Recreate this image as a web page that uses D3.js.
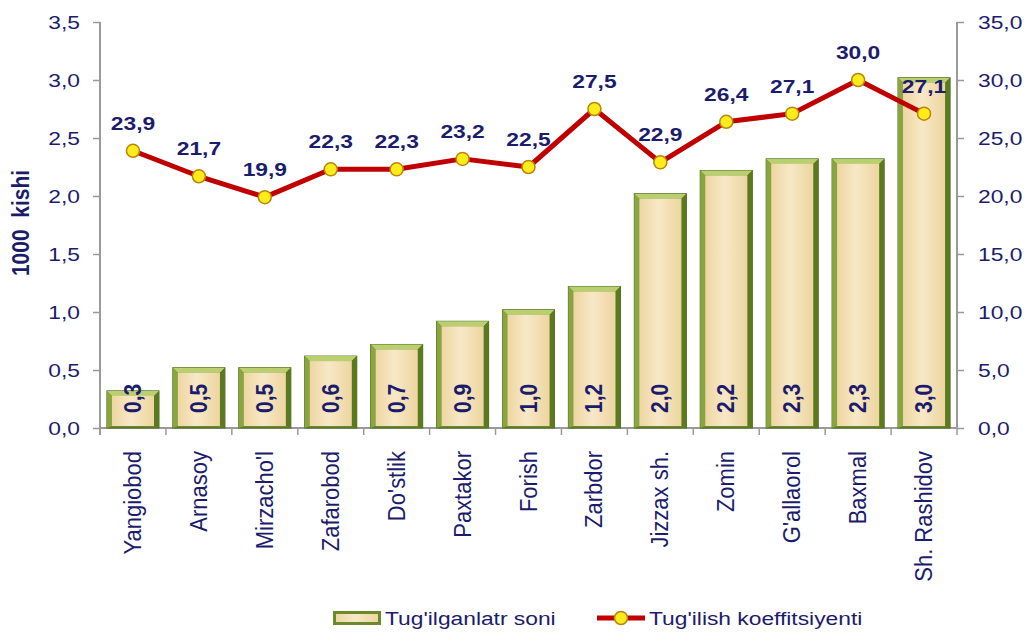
<!DOCTYPE html>
<html>
<head>
<meta charset="utf-8">
<script src="https://cdn.jsdelivr.net/npm/d3@7"></script>
<style>
    body { margin: 0; background: #fff; }
    svg { display: block; font-family: "Liberation Sans", Arial, sans-serif; }
</style>
</head>
<body>
<div id="chart"></div>
<script>
// Data
const districts = ["Yangiobod", "Arnasoy", "Mirzacho'l", "Zafarobod", "Do'stlik", "Paxtakor", "Forish",
    "Zarbdor", "Jizzax sh.", "Zomin", "G'allaorol", "Baxmal", "Sh. Rashidov"];
const births = [0.32, 0.52, 0.52, 0.62, 0.72, 0.92, 1.02, 1.22, 2.02, 2.22, 2.32, 2.32, 3.02];
const birthLabels = ["0,3", "0,5", "0,5", "0,6", "0,7", "0,9", "1,0", "1,2", "2,0", "2,2", "2,3", "2,3", "3,0"];
const rate = [23.9, 21.7, 19.9, 22.3, 22.3, 23.2, 22.5, 27.5, 22.9, 26.4, 27.1, 30.0, 27.1];
const leftTicks = [0, 0.5, 1.0, 1.5, 2.0, 2.5, 3.0, 3.5];
const rightTicks = [0, 5, 10, 15, 20, 25, 30, 35];
const seriesNames = ["Tug'ilganlatr soni", "Tug'ilish koeffitsiyenti"];

const width = 1027, height = 635;
const margin = { top: 22, right: 70, bottom: 207, left: 100 };
const innerWidth = width - margin.left - margin.right;
const innerHeight = height - margin.top - margin.bottom;

const navy = "#1c1c6c";
const axisGrey = "#9a9a9a";
const wide = 1.2; // the source lettering is drawn a bit wider than it is tall
const fmt = d => d3.format(".1f")(d).replace(".", ",");

// place text at (x, y), stretched sideways, optionally turned
const placeText = (x, y, turn) =>
    "translate(" + x + "," + y + ") scale(" + (turn ? 1.1 : wide) + ",1)" + (turn ? " rotate(-90)" : "");

const svg = d3.select("#chart")
    .append("svg")
    .attr("width", width)
    .attr("height", height)
    .append("g")
    .attr("transform", "translate(" + margin.left + "," + margin.top + ")");

const defs = svg.append("defs");

// beige face of the bars
const face = defs.append("linearGradient").attr("id", "face")
    .attr("x1", 0).attr("x2", 1).attr("y1", 0).attr("y2", 0);
face.append("stop").attr("offset", "0%").attr("stop-color", "#eed6a2");
face.append("stop").attr("offset", "45%").attr("stop-color", "#f7e8c6");
face.append("stop").attr("offset", "100%").attr("stop-color", "#eed5a0");

// Scales
const x = d3.scaleBand()
    .domain(districts)
    .range([0, innerWidth])
    .paddingInner(0.21)
    .paddingOuter(0.105);

const yLeft = d3.scaleLinear().domain([0, 3.5]).range([innerHeight, 0]);
const yRight = d3.scaleLinear().domain([0, 35]).range([innerHeight, 0]);

const stretchTicks = (g, dx) => {
    g.selectAll(".tick text").each(function () {
        d3.select(this)
            .attr("x", 0)
            .attr("transform", "translate(" + dx + ",0) scale(" + wide + ",1)")
            .attr("fill", navy)
            .attr("font-size", 19);
    });
    g.select(".domain").remove();
    g.selectAll("line").attr("stroke", axisGrey).attr("stroke-width", 1.5);
};

// Left axis
svg.append("g")
    .call(d3.axisLeft(yLeft).tickValues(leftTicks).tickSize(7).tickFormat(fmt))
    .call(g => stretchTicks(g, -20));

// Right axis
svg.append("g")
    .attr("transform", "translate(" + innerWidth + ",0)")
    .call(d3.axisRight(yRight).tickValues(rightTicks).tickSize(7).tickFormat(fmt))
    .call(g => stretchTicks(g, 21));

// Axis lines
svg.append("line").attr("x1", 0).attr("x2", 0).attr("y1", 0).attr("y2", innerHeight + 7)
    .attr("stroke", axisGrey).attr("stroke-width", 2);
svg.append("line").attr("x1", innerWidth).attr("x2", innerWidth).attr("y1", 0).attr("y2", innerHeight)
    .attr("stroke", axisGrey).attr("stroke-width", 2);
svg.append("line").attr("x1", 0).attr("x2", innerWidth).attr("y1", innerHeight).attr("y2", innerHeight)
    .attr("stroke", axisGrey).attr("stroke-width", 2);

// Category boundary ticks
const step = x.step();
svg.append("g").selectAll("line")
    .data(d3.range(districts.length + 1))
    .enter()
    .append("line")
    .attr("x1", i => i * step).attr("x2", i => i * step)
    .attr("y1", innerHeight).attr("y2", innerHeight + 7)
    .attr("stroke", axisGrey).attr("stroke-width", 1.5);

// Category labels
svg.append("g").selectAll("text")
    .data(districts)
    .enter()
    .append("text")
    .attr("transform", d => placeText(x(d) + x.bandwidth() / 2 + 8, innerHeight + 23, true))
    .attr("text-anchor", "end")
    .attr("fill", navy)
    .attr("font-size", 22)
    .text(d => d);

// Y axis title
svg.append("text")
    .attr("transform", placeText(-margin.left + 29, innerHeight / 2 - 2, true))
    .attr("text-anchor", "middle")
    .attr("fill", navy)
    .attr("font-size", 21)
    .attr("font-weight", "bold")
    .attr("xml:space", "preserve")
    .text("1000  kishi");

// Bars with a green bevelled frame
const bw = x.bandwidth();
const bevel = 5;
const bars = svg.append("g").selectAll("g")
    .data(births)
    .enter()
    .append("g")
    .attr("transform", (d, i) => "translate(" + x(districts[i]) + "," + yLeft(d) + ")");

bars.append("rect")
    .attr("width", bw)
    .attr("height", d => innerHeight - yLeft(d))
    .attr("fill", "#6a8a2c")
    .attr("stroke", "#4e6b1c")
    .attr("stroke-width", 1);

// top bevel
bars.append("path")
    .attr("d", "M0,0 L" + bw + ",0 L" + (bw - bevel) + "," + bevel + " L" + bevel + "," + bevel + "Z")
    .attr("fill", "#b9cf70");

// left bevel
bars.append("path")
    .attr("d", d => {
        const h = innerHeight - yLeft(d);
        return "M0,0 L" + bevel + "," + bevel + " L" + bevel + "," + (h - 2) + " L0," + h + "Z";
    })
    .attr("fill", "#88a53f");

// right bevel
bars.append("path")
    .attr("d", d => {
        const h = innerHeight - yLeft(d);
        return "M" + bw + ",0 L" + (bw - bevel) + "," + bevel + " L" + (bw - bevel) + "," + (h - 2) + " L" + bw + "," + h + "Z";
    })
    .attr("fill", "#5b7a20");

bars.append("rect")
    .attr("x", bevel)
    .attr("y", bevel)
    .attr("width", bw - 2 * bevel)
    .attr("height", d => Math.max(0, innerHeight - yLeft(d) - bevel - 2))
    .attr("fill", "url(#face)");

// Bar value labels
svg.append("g").selectAll("text")
    .data(births)
    .enter()
    .append("text")
    .attr("transform", (d, i) => placeText(x(districts[i]) + bw / 2 + 8, innerHeight - 15, true))
    .attr("fill", navy)
    .attr("font-size", 21)
    .attr("font-weight", "bold")
    .text((d, i) => birthLabels[i]);

// Rate line
const cx = i => x(districts[i]) + bw / 2;
const line = d3.line()
    .x((d, i) => cx(i))
    .y(d => yRight(d));

svg.append("path")
    .datum(rate)
    .attr("d", line)
    .attr("fill", "none")
    .attr("stroke", "#c00000")
    .attr("stroke-width", 5)
    .attr("stroke-linejoin", "round");

svg.append("g").selectAll("circle")
    .data(rate)
    .enter()
    .append("circle")
    .attr("cx", (d, i) => cx(i))
    .attr("cy", d => yRight(d))
    .attr("r", 6.5)
    .attr("fill", "#ffec1a")
    .attr("stroke", "#b8860b")
    .attr("stroke-width", 1.5);

svg.append("g").selectAll("text")
    .data(rate)
    .enter()
    .append("text")
    .attr("transform", (d, i) => placeText(cx(i), yRight(d) - 21, false))
    .attr("text-anchor", "middle")
    .attr("fill", navy)
    .attr("font-size", 19)
    .attr("font-weight", "bold")
    .text(fmt);

// Legend
const legend = svg.append("g")
    .attr("transform", "translate(" + (333 - margin.left) + "," + (618 - margin.top) + ")");

legend.append("rect")
    .attr("x", 0).attr("y", -7).attr("width", 48).attr("height", 14)
    .attr("fill", "#6a8a2c");
legend.append("rect")
    .attr("x", 3).attr("y", -4).attr("width", 42).attr("height", 8)
    .attr("fill", "url(#face)");
legend.append("text")
    .attr("transform", placeText(52, 0, false))
    .attr("dy", "0.35em")
    .attr("fill", navy).attr("font-size", 19)
    .text(seriesNames[0]);

legend.append("line")
    .attr("x1", 264).attr("x2", 312).attr("y1", 0).attr("y2", 0)
    .attr("stroke", "#c00000").attr("stroke-width", 5);
legend.append("circle")
    .attr("cx", 288).attr("cy", 0).attr("r", 6.5)
    .attr("fill", "#ffec1a").attr("stroke", "#b8860b").attr("stroke-width", 1.5);
legend.append("text")
    .attr("transform", placeText(316, 0, false))
    .attr("dy", "0.35em")
    .attr("fill", navy).attr("font-size", 19)
    .text(seriesNames[1]);
</script>
</body>
</html>
